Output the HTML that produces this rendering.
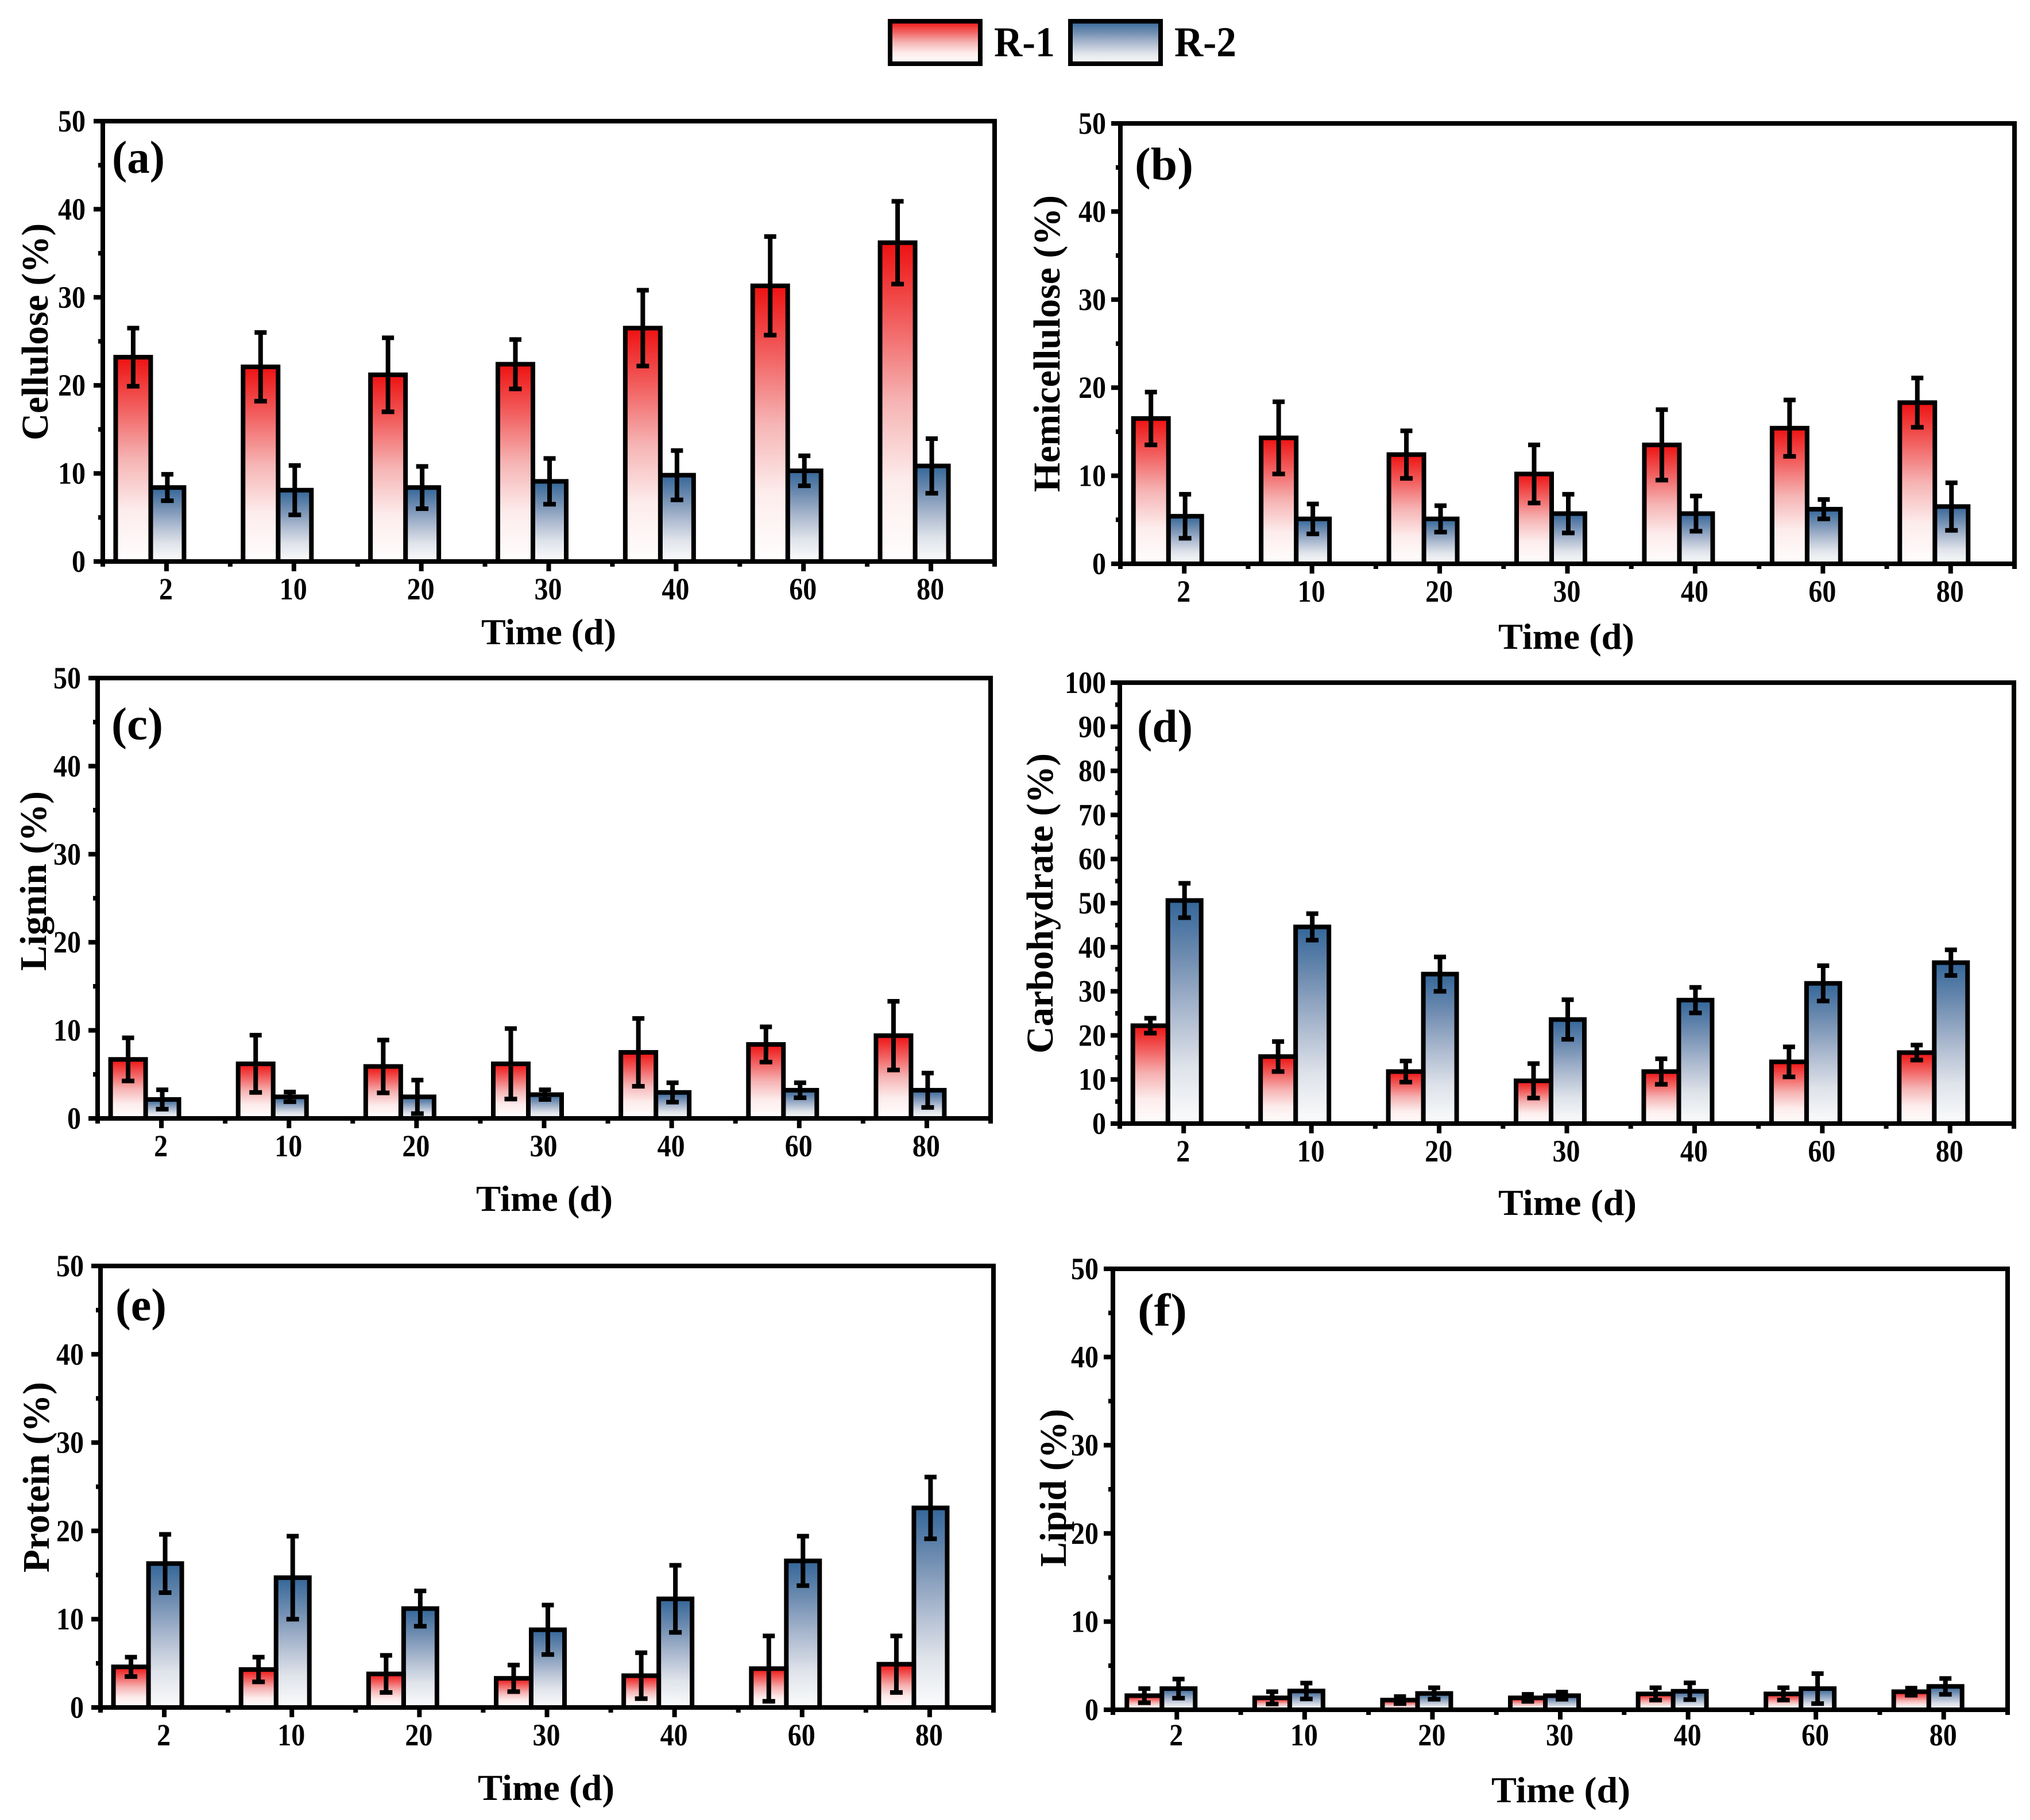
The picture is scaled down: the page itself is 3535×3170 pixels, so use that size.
<!DOCTYPE html>
<html lang="en">
<head>
<meta charset="utf-8">
<title>Biochemical composition over time, R-1 vs R-2</title>
<style>
html,body{margin:0;padding:0;background:#fff;}
svg{display:block;}
text{font-family:"Liberation Serif",serif;font-weight:bold;fill:#000;}
.ylab{font-size:66px;}
.xlab{font-size:64px;}
.tag{font-size:80px;}
.leg{font-size:74px;}
</style>
</head>
<body>
<svg id="figure" xmlns="http://www.w3.org/2000/svg" width="3535" height="3170" viewBox="0 0 3535 3170">
  <defs>
    <linearGradient id="gradR1" x1="0" y1="0" x2="0" y2="1">
      <stop offset="0" stop-color="#ee1111"/>
      <stop offset="0.25" stop-color="#f26060"/>
      <stop offset="0.5" stop-color="#f6b4b4"/>
      <stop offset="0.75" stop-color="#fdecec"/>
      <stop offset="1" stop-color="#fffefe"/>
    </linearGradient>
    <linearGradient id="gradR2" x1="0" y1="0" x2="0" y2="1">
      <stop offset="0" stop-color="#336699"/>
      <stop offset="0.25" stop-color="#6e8cb0"/>
      <stop offset="0.5" stop-color="#aab8ce"/>
      <stop offset="0.75" stop-color="#dfe3ea"/>
      <stop offset="1" stop-color="#fbfcfc"/>
    </linearGradient>
  </defs>
  <rect width="3535" height="3170" fill="#fff"/>

  <g>
    <rect x="1554" y="41" width="157" height="74" fill="#b4b4b4"/>
    <rect x="1550" y="37" width="157" height="74" fill="url(#gradR1)" stroke="#000" stroke-width="8"/>
    <text class="leg" x="1731" y="98" textLength="106" lengthAdjust="spacingAndGlyphs">R-1</text>
    <rect x="1868" y="41" width="157" height="74" fill="#b4b4b4"/>
    <rect x="1864" y="37" width="157" height="74" fill="url(#gradR2)" stroke="#000" stroke-width="8"/>
    <text class="leg" x="2045" y="98" textLength="108" lengthAdjust="spacingAndGlyphs">R-2</text>
  </g>

  <g id="panel-a">
    <text class="tag" x="195" y="301" textLength="92" lengthAdjust="spacingAndGlyphs">(a)</text>
    <text class="ylab" transform="translate(83,767) rotate(-90)" textLength="378" lengthAdjust="spacingAndGlyphs">Cellulose (%)</text>
    <text class="xlab" x="838" y="1122" textLength="235" lengthAdjust="spacingAndGlyphs">Time (d)</text>
  </g>
  <g id="panel-b">
    <text class="tag" x="1976" y="313" textLength="102" lengthAdjust="spacingAndGlyphs">(b)</text>
    <text class="ylab" transform="translate(1845,857) rotate(-90)" textLength="517" lengthAdjust="spacingAndGlyphs">Hemicellulose (%)</text>
    <text class="xlab" x="2609" y="1130" textLength="237" lengthAdjust="spacingAndGlyphs">Time (d)</text>
  </g>
  <g id="panel-c">
    <text class="tag" x="194" y="1288" textLength="90" lengthAdjust="spacingAndGlyphs">(c)</text>
    <text class="ylab" transform="translate(80,1691) rotate(-90)" textLength="313" lengthAdjust="spacingAndGlyphs">Lignin (%)</text>
    <text class="xlab" x="829" y="2109" textLength="238" lengthAdjust="spacingAndGlyphs">Time (d)</text>
  </g>
  <g id="panel-d">
    <text class="tag" x="1980" y="1292" textLength="97" lengthAdjust="spacingAndGlyphs">(d)</text>
    <text class="ylab" transform="translate(1833,1835) rotate(-90)" textLength="523" lengthAdjust="spacingAndGlyphs">Carbohydrate (%)</text>
    <text class="xlab" x="2609" y="2116" textLength="241" lengthAdjust="spacingAndGlyphs">Time (d)</text>
  </g>
  <g id="panel-e">
    <text class="tag" x="201" y="2300" textLength="89" lengthAdjust="spacingAndGlyphs">(e)</text>
    <text class="ylab" transform="translate(85,2739) rotate(-90)" textLength="332" lengthAdjust="spacingAndGlyphs">Protein (%)</text>
    <text class="xlab" x="832" y="3135" textLength="238" lengthAdjust="spacingAndGlyphs">Time (d)</text>
  </g>
  <g id="panel-f">
    <text class="tag" x="1981" y="2309" textLength="86" lengthAdjust="spacingAndGlyphs">(f)</text>
    <text class="ylab" transform="translate(1856,2729) rotate(-90)" textLength="275" lengthAdjust="spacingAndGlyphs">Lipid (%)</text>
    <text class="xlab" x="2597" y="3139" textLength="242" lengthAdjust="spacingAndGlyphs">Time (d)</text>
  </g>
</svg>

<script>
// Shared categories and tick labels
const timeCategories = ["2", "10", "20", "30", "40", "60", "80"];
const yTicks50 = [0, 10, 20, 30, 40, 50];
const yTicks100 = [0, 10, 20, 30, 40, 50, 60, 70, 80, 90, 100];

// Values
const celluloseR1 = [23.2, 22.1, 21.2, 22.4, 26.5, 31.3, 36.2];
const celluloseR1Err = [3.3, 3.9, 4.2, 2.8, 4.3, 5.6, 4.7];
const celluloseR2 = [8.4, 8.1, 8.4, 9.1, 9.8, 10.3, 10.85];
const celluloseR2Err = [1.5, 2.8, 2.4, 2.6, 2.8, 1.7, 3.1];

const hemicelluloseR1 = [16.5, 14.3, 12.4, 10.2, 13.5, 15.4, 18.3];
const hemicelluloseR1Err = [3.0, 4.1, 2.7, 3.3, 4.0, 3.2, 2.8];
const hemicelluloseR2 = [5.4, 5.1, 5.1, 5.7, 5.7, 6.2, 6.5];
const hemicelluloseR2Err = [2.5, 1.7, 1.5, 2.2, 2.0, 1.1, 2.7];

const ligninR1 = [6.7, 6.2, 5.9, 6.2, 7.5, 8.4, 9.4];
const ligninR1Err = [2.45, 3.25, 3.0, 4.0, 3.85, 2.0, 3.9];
const ligninR2 = [2.15, 2.45, 2.45, 2.7, 2.95, 3.2, 3.2];
const ligninR2Err = [1.1, 0.55, 1.9, 0.55, 1.1, 0.85, 1.95];

const carbohydrateR1 = [22.2, 15.2, 11.8, 9.7, 11.8, 14.0, 16.1];
const carbohydrateR1Err = [1.7, 3.4, 2.4, 3.9, 2.9, 3.4, 1.7];
const carbohydrateR2 = [50.6, 44.6, 33.9, 23.6, 28.0, 31.8, 36.5];
const carbohydrateR2Err = [3.9, 3.0, 3.9, 4.5, 2.9, 4.0, 2.9];

const proteinR1 = [4.6, 4.3, 3.8, 3.3, 3.6, 4.4, 4.9];
const proteinR1Err = [1.1, 1.4, 2.1, 1.5, 2.6, 3.7, 3.2];
const proteinR2 = [16.3, 14.7, 11.2, 8.8, 12.3, 16.6, 22.6];
const proteinR2Err = [3.3, 4.7, 2.0, 2.8, 3.8, 2.8, 3.5];

const lipidR1 = [1.6, 1.35, 1.1, 1.35, 1.8, 1.8, 2.05];
const lipidR1Err = [0.8, 0.7, 0.4, 0.4, 0.7, 0.7, 0.4];
const lipidR2 = [2.4, 2.13, 1.85, 1.6, 2.1, 2.4, 2.65];
const lipidR2Err = [1.08, 0.9, 0.65, 0.4, 0.95, 1.7, 0.9];

const SVG_NS = "http://www.w3.org/2000/svg";

function makeLine(parent, x1, y1, x2, y2, width) {
  const el = document.createElementNS(SVG_NS, "line");
  el.setAttribute("x1", x1);
  el.setAttribute("y1", y1);
  el.setAttribute("x2", x2);
  el.setAttribute("y2", y2);
  el.setAttribute("stroke", "#000");
  el.setAttribute("stroke-width", width);
  parent.appendChild(el);
  return el;
}

function drawPanel(panelId, box, yMax, yTicks, seriesR1, errR1, seriesR2, errR2, yLabelGap, xLabelDrop, barShift) {
  const root = document.getElementById(panelId);
  const step = (box.right - box.left) / timeCategories.length;
  const xCenter = function (i) { return box.left + step * (i + 0.5); };
  const yScale = function (v) { return box.bottom - (v / yMax) * (box.bottom - box.top); };

  // Bars and error bars for both series
  function drawSeries(name, values, errors, gradient, offset, barW) {
    values.forEach(function (v, i) {
      const g = document.createElementNS(SVG_NS, "g");
      
      
      const cx = xCenter(i) + offset;
      const bar = document.createElementNS(SVG_NS, "rect");
      bar.setAttribute("x", cx - barW / 2);
      bar.setAttribute("y", yScale(v));
      bar.setAttribute("width", barW);
      bar.setAttribute("height", box.bottom - yScale(v));
      bar.setAttribute("fill", gradient);
      bar.setAttribute("stroke", "#000");
      bar.setAttribute("stroke-width", 8);
      
      
      g.appendChild(bar);
      const hi = yScale(v + errors[i]);
      const lo = Math.min(yScale(Math.max(v - errors[i], 0)), box.bottom);
      const stem = makeLine(g, cx, hi, cx, lo, 8);
      
      
      const capTop = makeLine(g, cx - 10.5, hi, cx + 10.5, hi, 8);
      
      
      const capBottom = makeLine(g, cx - 11, lo, cx + 11, lo, 8);
      
      
      root.appendChild(g);
    });
  }
  drawSeries('r2', seriesR2, errR2, 'url(#gradR2)', barShift, 58);
  drawSeries('r1', seriesR1, errR1, 'url(#gradR1)', barShift - 59.5, 61);

  // Frame
  const frame = document.createElementNS(SVG_NS, "rect");
  frame.setAttribute("x", box.left);
  frame.setAttribute("y", box.top);
  frame.setAttribute("width", box.right - box.left);
  frame.setAttribute("height", box.bottom - box.top);
  frame.setAttribute("fill", "none");
  frame.setAttribute("stroke", "#000");
  frame.setAttribute("stroke-width", 8);
  
  
  root.appendChild(frame);

  // Y axis ticks and labels
  const tickStep = yTicks[1] - yTicks[0];
  yTicks.forEach(function (t) {
    const y = yScale(t);
    const tick = makeLine(root, box.left - 16, y, box.left, y, 8);
    
    
    const label = document.createElementNS(SVG_NS, "text");
    const str = String(t);
    label.textContent = str;
    label.setAttribute("x", box.left - yLabelGap);
    label.setAttribute("y", y + 18);
    label.setAttribute("text-anchor", "end");
    label.setAttribute("font-size", 54);
    label.setAttribute("textLength", str.length * 24);
    label.setAttribute("lengthAdjust", "spacingAndGlyphs");
    
    
    root.appendChild(label);
    if (t < yMax) {
      const ym = yScale(t + tickStep / 2);
      const minor = makeLine(root, box.left - 8, ym, box.left, ym, 8);
      
      
    }
  });

  // X axis ticks and labels
  timeCategories.forEach(function (c, i) {
    const x = xCenter(i);
    const tick = makeLine(root, x, box.bottom, x, box.bottom + 17, 8);
    
    
    const label = document.createElementNS(SVG_NS, "text");
    label.textContent = c;
    label.setAttribute("x", x - 1);
    label.setAttribute("y", box.bottom + xLabelDrop);
    label.setAttribute("text-anchor", "middle");
    label.setAttribute("font-size", 54);
    label.setAttribute("textLength", c.length * 24);
    label.setAttribute("lengthAdjust", "spacingAndGlyphs");
    
    
    root.appendChild(label);
  });
  for (let i = 0; i <= timeCategories.length; i++) {
    const xm = box.left + step * i;
    const minor = makeLine(root, xm, box.bottom, xm, box.bottom + 9, 8);
    
    
  }
}

drawPanel("panel-a", {left: 179, right: 1732, top: 211, bottom: 978}, 50, yTicks50, celluloseR1, celluloseR1Err, celluloseR2, celluloseR2Err, 30, 66, 1.5);
drawPanel("panel-b", {left: 1951, right: 3508, top: 215, bottom: 982}, 50, yTicks50, hemicelluloseR1, hemicelluloseR1Err, hemicelluloseR2, hemicelluloseR2Err, 25, 66, 1.5);
drawPanel("panel-c", {left: 170, right: 1725, top: 1181, bottom: 1948}, 50, yTicks50, ligninR1, ligninR1Err, ligninR2, ligninR2Err, 29, 66, 1.5);
drawPanel("panel-d", {left: 1950, right: 3507, top: 1189, bottom: 1957}, 100, yTicks100, carbohydrateR1, carbohydrateR1Err, carbohydrateR2, carbohydrateR2Err, 24, 66, 1.5);
drawPanel("panel-e", {left: 175, right: 1730, top: 2205, bottom: 2974}, 50, yTicks50, proteinR1, proteinR1Err, proteinR2, proteinR2Err, 29, 66, 1.5);
drawPanel("panel-f", {left: 1938, right: 3496, top: 2210, bottom: 2978}, 50, yTicks50, lipidR1, lipidR1Err, lipidR2, lipidR2Err, 25, 62, 3);
</script>
</body>
</html>
